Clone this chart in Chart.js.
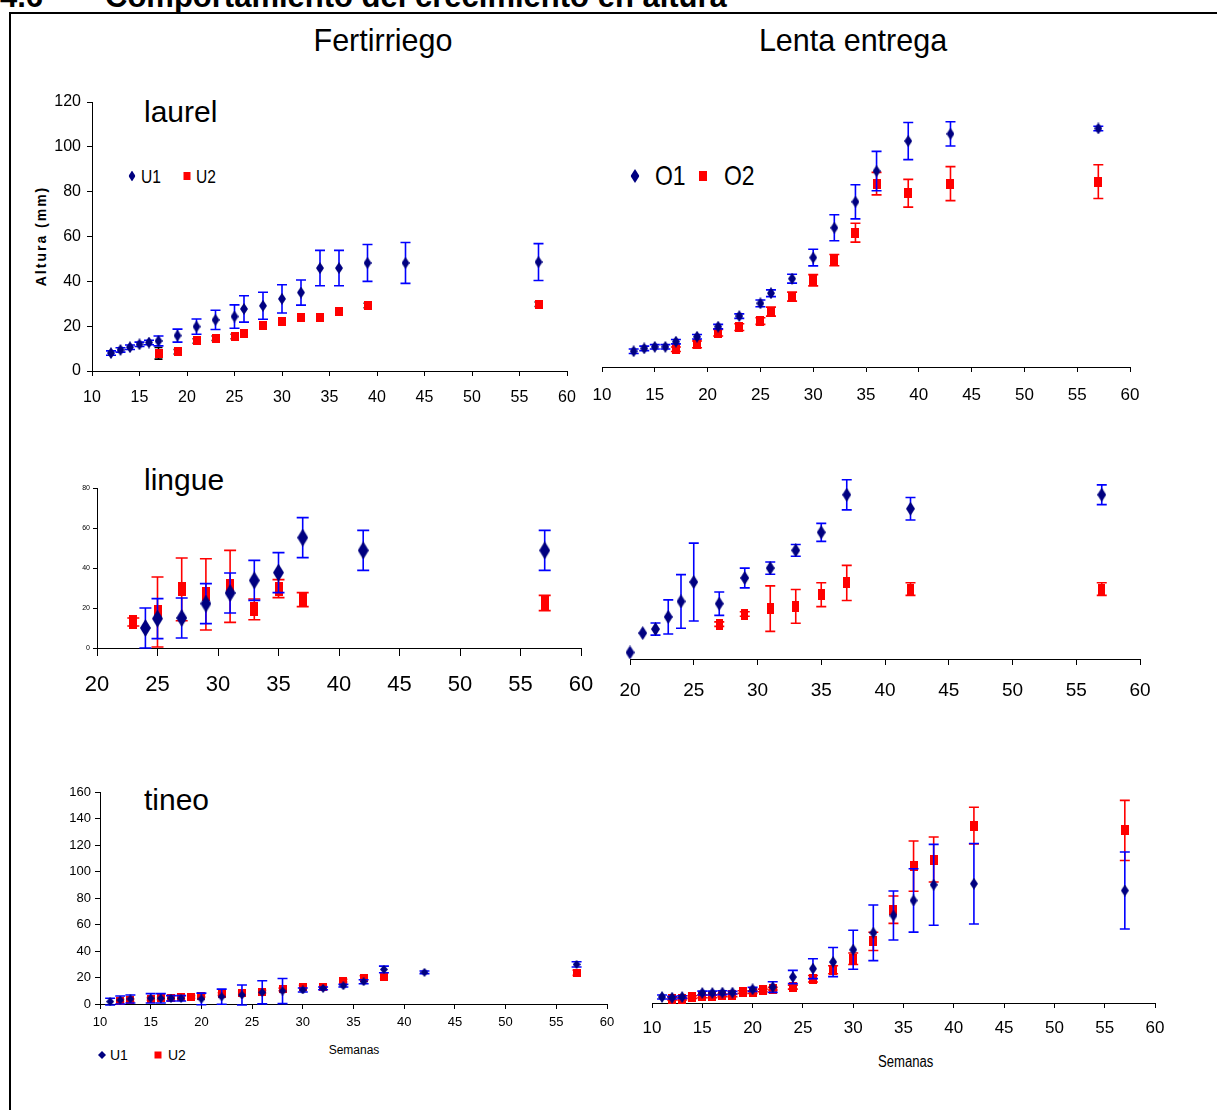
<!DOCTYPE html>
<html>
<head>
<meta charset="utf-8">
<script src="https://cdn.jsdelivr.net/npm/chart.js@4.4.0/dist/chart.umd.min.js"></script>
<style>
body { margin: 0; background: #fff; width: 1217px; height: 1110px; overflow: hidden; position: relative; font-family: Arial, "Liberation Sans", sans-serif; }
.t { position: absolute; white-space: nowrap; line-height: 1; color: #000; }
.c { transform: translate(-50%, -50%); }
.narrow { transform: scaleX(0.82); transform-origin: 0 50%; }
canvas { position: absolute; }
.mk { position: absolute; transform: translate(-50%, -50%); }
.dia { clip-path: polygon(50% 0, 100% 50%, 50% 100%, 0 50%); background: #000080; }
.sq { background: #ff0000; }
</style>
</head>
<body>
<div class="t" style="left:0;top:-19px;font-weight:bold;font-size:31px;">4.6</div>
<div class="t" style="left:105px;top:-19px;font-weight:bold;font-size:31px;">Comportamiento del crecimiento en altura</div>
<div style="position:absolute;left:9px;top:12px;width:1300px;height:1200px;border-left:2px solid #000;border-top:2px solid #000;"></div>

<div class="t c" style="left:383px;top:40px;font-size:30.5px;">Fertirriego</div>
<div class="t c" style="left:853px;top:40px;font-size:30.5px;">Lenta entrega</div>

<div class="t" style="left:144px;top:97px;font-size:30px;">laurel</div>
<div class="t" style="left:144px;top:465px;font-size:30px;">lingue</div>
<div class="t" style="left:144px;top:785px;font-size:30px;">tineo</div>

<div class="t" style="left:41px;top:236px;font-size:14px;font-weight:bold;letter-spacing:2px;transform:translate(-50%,-50%) rotate(-90deg);">Altura (mm)</div>

<!-- legend laurel fertirriego -->
<div class="mk dia" style="left:132px;top:176px;width:7px;height:11px;"></div>
<div class="t narrow" style="left:141px;top:167px;font-size:19px;">U1</div>
<div class="mk sq" style="left:187px;top:176px;width:7px;height:8px;"></div>
<div class="t narrow" style="left:196px;top:167px;font-size:19px;">U2</div>

<!-- legend laurel lenta entrega -->
<div class="mk dia" style="left:635px;top:176px;width:9px;height:14px;"></div>
<div class="t narrow" style="left:655px;top:162px;font-size:28px;">O1</div>
<div class="mk sq" style="left:703px;top:176px;width:8px;height:10px;"></div>
<div class="t narrow" style="left:724px;top:162px;font-size:28px;">O2</div>

<!-- legend tineo -->
<div class="mk dia" style="left:102px;top:1055px;width:8px;height:8px;"></div>
<div class="t" style="left:110px;top:1048px;font-size:14px;">U1</div>
<div class="mk sq" style="left:158px;top:1055px;width:7px;height:7px;"></div>
<div class="t" style="left:168px;top:1048px;font-size:14px;">U2</div>

<div class="t c" style="left:354px;top:1050px;font-size:12px;">Semanas</div>
<div class="t" style="left:878px;top:1054px;font-size:16px;transform:scaleX(0.82);transform-origin:0 50%;">Semanas</div>

<canvas id="p1"></canvas>
<canvas id="p2"></canvas>
<canvas id="p3"></canvas>
<canvas id="p4"></canvas>
<canvas id="p5"></canvas>
<canvas id="p6"></canvas>

<script>
// laurel - Fertirriego
var laurelFertWeeksU1 = [12, 13, 14, 15, 16, 17, 19, 21, 23, 25, 26, 28, 30, 32, 34, 36, 39, 43, 57];
var laurelFertU1 = [8, 9.4, 10.6, 11.9, 12.7, 13.4, 15.8, 19.8, 22.8, 24.3, 27.7, 29.1, 32.2, 35, 45.9, 45.9, 48.2, 48.2, 48.6];
var laurelFertU1Err = [1, 1, 1, 1, 1, 2.2, 2.9, 3.4, 4.3, 5.2, 5.9, 6, 6.3, 5.6, 7.9, 7.9, 8.2, 9.1, 8.2];
var laurelFertWeeksU2 = [17, 19, 21, 23, 25, 26, 28, 30, 32, 34, 36, 39, 57];
var laurelFertU2 = [7.9, 8.6, 13.4, 14.6, 15.4, 16.8, 20.1, 22.1, 23.9, 23.9, 26.5, 29.2, 29.8];
var laurelFertU2Err = [2.6, 1, 1, 1, 1, 1, 1.3, 1, 1, 1, 1.5, 1, 1];

// laurel - Lenta entrega
var laurelLentaWeeksO1 = [13, 14, 15, 16, 17, 19, 21, 23, 25, 26, 28, 30, 32, 34, 36, 39, 43, 57];
var laurelLentaO1 = [7, 8.3, 9, 9, 11.3, 13.5, 18, 22.7, 28.4, 32.9, 39.4, 48.8, 62.1, 73.7, 87.4, 100.8, 104, 106.4];
var laurelLentaO1Err = [1, 1, 1, 1, 1, 1, 1, 1, 1.5, 1.5, 2, 3.7, 5.8, 7.6, 8.8, 8.3, 5.4, 1];
var laurelLentaWeeksO2 = [17, 19, 21, 23, 25, 26, 28, 30, 32, 34, 36, 39, 43, 57];
var laurelLentaO2 = [7.9, 10.1, 15.3, 17.8, 20.5, 24.7, 31.4, 38.7, 47.7, 59.9, 81.8, 77.5, 81.8, 82.7];
var laurelLentaO2Err = [1, 1.5, 1.5, 1.5, 1.5, 2, 2, 2.5, 2.5, 4.2, 5, 6.2, 7.6, 7.5];

// lingue - Fertirriego
var lingueFertWeeksU1 = [24, 25, 27, 29, 31, 33, 35, 37, 42, 57];
var lingueFertU1 = [10, 14.7, 15, 22.2, 27.5, 33.8, 37.7, 55.2, 48.8, 48.8];
var lingueFertU1Err = [10, 10, 10, 10, 10, 10, 10, 10, 10, 10];
var lingueFertWeeksU2 = [23, 25, 27, 29, 31, 33, 35, 37, 57];
var lingueFertU2 = [13, 18, 29.3, 26.8, 30.8, 19.3, 29.7, 24.2, 22.5];
var lingueFertU2Err = [2, 17.5, 15.7, 17.8, 18, 5.2, 4.5, 3.5, 3.8];

// lingue - Lenta entrega
var lingueLentaWeeksO1 = [20, 21, 22, 23, 24, 25, 27, 29, 31, 33, 35, 37, 42, 57];
var lingueLentaO1 = [2.9, 11.5, 13.3, 18.7, 25.6, 34.2, 24.6, 36, 40.4, 48.3, 56.3, 73, 66.8, 73];
var lingueLentaO1Err = [0, 0, 2.7, 7.6, 11.9, 17.3, 5.2, 4.4, 2.7, 2.6, 4, 6.7, 5, 4.4];
var lingueLentaWeeksO2 = [27, 29, 31, 33, 35, 37, 42, 57];
var lingueLentaO2 = [15.5, 20, 22.4, 23.4, 28.6, 33.8, 31.1, 31.1];
var lingueLentaO2Err = [1, 1, 10.1, 7.5, 5.3, 7.8, 2.8, 2.8];

// tineo - Fertirriego
var tineoFertWeeksU1 = [11, 12, 13, 15, 16, 17, 18, 20, 22, 24, 26, 28, 30, 32, 34, 36, 38, 42, 57];
var tineoFertU1 = [1.8, 3, 3.8, 4.3, 4.3, 4.3, 4.3, 3.8, 5.5, 6.8, 8.8, 9.8, 10.6, 11.8, 13.8, 16.8, 26.1, 23.9, 29.9];
var tineoFertU1Err = [2.5, 3, 3, 3.5, 3.5, 2, 2, 4.4, 5.7, 7.5, 8.7, 9.5, 1.5, 1, 1, 1.5, 2.5, 1, 2];
var tineoFertWeeksU2 = [12, 13, 15, 16, 17, 18, 19, 20, 22, 24, 26, 28, 30, 32, 34, 36, 38, 57];
var tineoFertU2 = [2.5, 2.8, 3.8, 4.3, 4.3, 5, 5.3, 6.3, 7.5, 8.5, 9.3, 11, 13.1, 13.1, 17.6, 19.8, 20.6, 23.6];
var tineoFertU2Err = [1, 1, 1, 1, 1, 1, 1, 1, 1, 1, 1, 1, 1, 1, 1, 1.5, 1.5, 2];

// tineo - Lenta entrega
var tineoLentaWeeksO1 = [11, 12, 13, 15, 16, 17, 18, 20, 22, 24, 26, 28, 30, 32, 34, 36, 38, 42, 57];
var tineoLentaO1 = [4.5, 4, 4.5, 7.5, 7.5, 7.8, 7.8, 10.3, 12, 19.6, 25.9, 30.9, 40.2, 53, 66, 77.4, 89.2, 90, 84.9];
var tineoLentaO1Err = [1.5, 1, 1, 1.5, 1.5, 1.5, 1, 1.5, 4, 5, 7.5, 11, 14.7, 21, 18.5, 23.9, 30.5, 30.4, 29.1];
var tineoLentaWeeksO2 = [12, 13, 14, 15, 16, 17, 18, 19, 20, 21, 22, 24, 26, 28, 30, 32, 34, 36, 38, 42, 57];
var tineoLentaO2 = [3.3, 3.3, 4.5, 5, 5, 5.8, 5.8, 8.3, 8.3, 9.5, 10.8, 12, 18.3, 25.1, 33.4, 46.5, 70.4, 103.3, 108.3, 133.9, 130.2];
var tineoLentaO2Err = [1, 1, 1, 1, 1, 1, 1, 1, 1, 1, 1, 1.5, 2.5, 3, 4.3, 6.9, 10.3, 19, 17, 13.8, 22.7];

var NAVY = '#000080';
var RED = '#ff0000';
var BLUE = '#0000ff';
var SANS = 'Arial, "Liberation Sans", sans-serif';

function diamond(w, h) {
    var c = document.createElement('canvas');
    c.width = w;
    c.height = h;
    var g = c.getContext('2d');
    g.fillStyle = NAVY;
    g.beginPath();
    g.moveTo(w / 2, 0);
    g.lineTo(w, h / 2);
    g.lineTo(w / 2, h);
    g.lineTo(0, h / 2);
    g.closePath();
    g.fill();
    return c;
}

function box(w, h) {
    var c = document.createElement('canvas');
    c.width = w;
    c.height = h;
    var g = c.getContext('2d');
    g.fillStyle = RED;
    g.fillRect(0, 0, w, h);
    return c;
}

function points(xs, ys) {
    return xs.map(function (x, i) { return {x: x, y: ys[i]}; });
}

// vertical error bars drawn through the chart scales
var errorBars = {
    id: 'errorBars',
    beforeDatasetDraw: function (chart, args) {
        var ds = chart.data.datasets[args.index];
        if (!ds.errors) {
            return;
        }
        var xs = chart.scales.x;
        var ys = chart.scales.y;
        var ctx = chart.ctx;
        ctx.save();
        ctx.strokeStyle = ds.errorColor;
        ctx.lineWidth = 1.6;
        ds.data.forEach(function (p, i) {
            var e = ds.errors[i];
            if (!e) {
                return;
            }
            var x = xs.getPixelForValue(p.x);
            var yTop = ys.getPixelForValue(p.y + e);
            var yBot = ys.getPixelForValue(p.y - e);
            var cw = ds.capWidth;
            ctx.beginPath();
            ctx.moveTo(x, yTop);
            ctx.lineTo(x, yBot);
            ctx.moveTo(x - cw, yTop);
            ctx.lineTo(x + cw, yTop);
            ctx.moveTo(x - cw, yBot);
            ctx.lineTo(x + cw, yBot);
            ctx.stroke();
        });
        ctx.restore();
    }
};

function series(xs, ys, errs, marker, errColor, cap) {
    return {
        data: points(xs, ys),
        errors: errs,
        errorColor: errColor,
        capWidth: cap,
        pointStyle: marker,
        pointRadius: 5,
        showLine: false,
        clip: false
    };
}

function panel(id, area, cfg) {
    var m = 60;
    var yw = cfg.yShow ? 50 : 0;
    var xh = 45;
    var cx = area.l - m;
    var cy = area.t - 20;
    var cw = area.r - area.l + m + 30;
    var ch = area.b - area.t + 20 + 60;
    var el = document.getElementById(id);
    el.width = cw;
    el.height = ch;
    el.style.left = cx + 'px';
    el.style.top = cy + 'px';
    new Chart(el.getContext('2d'), {
        type: 'scatter',
        data: {datasets: cfg.datasets},
        options: {
            responsive: false,
            animation: false,
            devicePixelRatio: 1,
            layout: {padding: {left: m - yw, top: 20, right: 30, bottom: 60 - xh}},
            plugins: {legend: {display: false}, tooltip: {enabled: false}},
            scales: {
                x: {
                    type: 'linear',
                    min: cfg.xMin,
                    max: 60,
                    afterFit: function (s) { s.height = xh; },
                    border: {display: true, color: '#000', width: 1},
                    grid: {drawOnChartArea: false, drawTicks: true, tickLength: cfg.xTick, color: '#000'},
                    ticks: {
                        stepSize: 5,
                        autoSkip: false,
                        maxRotation: 0,
                        padding: cfg.xPad,
                        color: '#000',
                        font: {family: SANS, size: cfg.xSize}
                    }
                },
                y: {
                    type: 'linear',
                    display: cfg.yShow,
                    min: 0,
                    max: cfg.yMax,
                    afterFit: function (s) { s.width = yw; },
                    border: {display: true, color: '#000', width: 1},
                    grid: {drawOnChartArea: false, drawTicks: true, tickLength: cfg.yTick || 5, color: '#000'},
                    ticks: {
                        stepSize: 20,
                        padding: cfg.yPad || 5,
                        color: '#000',
                        font: {family: SANS, size: cfg.ySize}
                    }
                }
            }
        },
        plugins: [errorBars]
    });
}

panel('p1', {l: 92, t: 102, r: 567, b: 371}, {
    yShow: true, yMax: 120, xMin: 10,
    xTick: 5, xPad: 12, xSize: 16,
    yTick: 5, yPad: 6, ySize: 16,
    datasets: [
        series(laurelFertWeeksU1, laurelFertU1, laurelFertU1Err, diamond(8, 12), BLUE, 5),
        series(laurelFertWeeksU2, laurelFertU2, laurelFertU2Err, box(8, 9), '#000', 4)
    ]
});

panel('p2', {l: 602, t: 98, r: 1130, b: 367}, {
    yShow: false, yMax: 120, xMin: 10,
    xTick: 5, xPad: 13, xSize: 17,
    datasets: [
        series(laurelLentaWeeksO1, laurelLentaO1, laurelLentaO1Err, diamond(8, 12), BLUE, 5),
        series(laurelLentaWeeksO2, laurelLentaO2, laurelLentaO2Err, box(8, 10), RED, 5)
    ]
});

panel('p3', {l: 97, t: 488, r: 581, b: 648}, {
    yShow: true, yMax: 80, xMin: 20,
    xTick: 8, xPad: 16, xSize: 22,
    yTick: 4, yPad: 3, ySize: 7,
    datasets: [
        series(lingueFertWeeksU1, lingueFertU1, lingueFertU1Err, diamond(11, 18), BLUE, 6),
        series(lingueFertWeeksU2, lingueFertU2, lingueFertU2Err, box(8, 14), RED, 6)
    ]
});

panel('p4', {l: 630, t: 479, r: 1140, b: 659}, {
    yShow: false, yMax: 80, xMin: 20,
    xTick: 6, xPad: 14, xSize: 19,
    datasets: [
        series(lingueLentaWeeksO1, lingueLentaO1, lingueLentaO1Err, diamond(9, 14), BLUE, 5),
        series(lingueLentaWeeksO2, lingueLentaO2, lingueLentaO2Err, box(7, 11), RED, 5)
    ]
});

panel('p5', {l: 100, t: 792, r: 607, b: 1004}, {
    yShow: true, yMax: 160, xMin: 10,
    xTick: 5, xPad: 6, xSize: 13,
    yTick: 5, yPad: 4, ySize: 13,
    datasets: [
        series(tineoFertWeeksU1, tineoFertU1, tineoFertU1Err, diamond(8, 9), BLUE, 5),
        series(tineoFertWeeksU2, tineoFertU2, tineoFertU2Err, box(8, 8), RED, 4)
    ]
});

panel('p6', {l: 652, t: 791, r: 1155, b: 1003}, {
    yShow: false, yMax: 160, xMin: 10,
    xTick: 5, xPad: 10, xSize: 17,
    datasets: [
        series(tineoLentaWeeksO1, tineoLentaO1, tineoLentaO1Err, diamond(8, 12), BLUE, 5),
        series(tineoLentaWeeksO2, tineoLentaO2, tineoLentaO2Err, box(8, 10), RED, 5)
    ]
});
</script>
</body>
</html>
